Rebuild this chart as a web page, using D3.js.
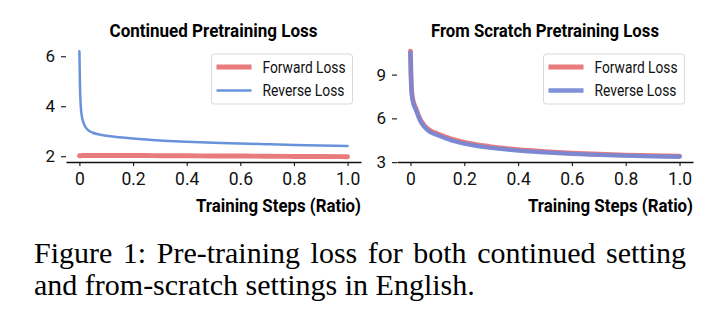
<!DOCTYPE html>
<html>
<head>
<meta charset="utf-8">
<script src="https://cdn.jsdelivr.net/npm/d3@7"></script>
<style>
  html, body { margin: 0; padding: 0; background: #fff; }
  svg { display: block; }
</style>
</head>
<body>
<svg id="chart" width="719" height="323"></svg>
<script>
// ---------------- DATA ----------------
const steps = [0, 0.002, 0.005, 0.01, 0.015, 0.02, 0.03, 0.04, 0.05, 0.07, 0.1, 0.15, 0.2, 0.25, 0.3, 0.4, 0.5, 0.6, 0.7, 0.8, 0.9, 1.0];

const contForward = [2.02, 2.02, 2.02, 2.03, 2.03, 2.03, 2.03, 2.03, 2.03, 2.03, 2.03, 2.03, 2.03, 2.03, 2.02, 2.02, 2.01, 2.01, 2.00, 1.99, 1.99, 1.98];
const contReverse = [6.2, 4.9, 4.0, 3.55, 3.35, 3.22, 3.07, 2.99, 2.94, 2.88, 2.82, 2.76, 2.71, 2.67, 2.63, 2.58, 2.54, 2.51, 2.48, 2.45, 2.43, 2.41];

const scratchForward = [10.6, 9.0, 7.8, 7.2, 6.9, 6.7, 6.2, 5.8, 5.55, 5.2, 4.95, 4.6, 4.35, 4.18, 4.05, 3.85, 3.72, 3.62, 3.54, 3.48, 3.44, 3.41];
const scratchReverse = [10.5, 8.9, 7.7, 7.1, 6.8, 6.6, 6.1, 5.7, 5.45, 5.1, 4.85, 4.5, 4.27, 4.1, 3.98, 3.79, 3.67, 3.57, 3.5, 3.44, 3.4, 3.37];

const xTicks = [0, 0.2, 0.4, 0.6, 0.8, 1.0];
const xTickLabels = ["0", "0.2", "0.4", "0.6", "0.8", "1.0"];
const contYTicks = [2, 4, 6];
const scratchYTicks = [3, 6, 9];

const panelTitles = ["Continued Pretraining Loss", "From Scratch Pretraining Loss"];
const seriesNames = ["Forward Loss", "Reverse Loss"];
const xAxisLabel = "Training Steps (Ratio)";
const captionLines = ["Figure 1: Pre-training loss for both continued setting", "and from-scratch settings in English."];

// ---------------- STYLE ----------------
const RED = "#e87b7b";
const BLUE = "#6893dc";
const BLUE2 = "#7388d6";
const FONT = "Roboto, 'Noto Sans', sans-serif";

const svg = d3.select("#chart");

const panels = [
  { x0: 66, x1: 361, title: panelTitles[0], titleLen: 208,
    fwd: contForward, rev: contReverse, yTicks: contYTicks,
    fwdW: 4.8, revW: 2.5, revColor: BLUE, revOpacity: 1 },
  { x0: 397, x1: 693, title: panelTitles[1], titleLen: 228,
    fwd: scratchForward, rev: scratchReverse, yTicks: scratchYTicks,
    fwdW: 4.8, revW: 4.3, revColor: BLUE2, revOpacity: 0.92 }
];
const yTop = 46, yBot = 162;

panels.forEach(p => {
  const g = svg.append("g");
  const xExt = d3.extent(steps);
  const xPad = (xExt[1] - xExt[0]) * 0.05;
  const x = d3.scaleLinear().domain([xExt[0] - xPad, xExt[1] + xPad]).range([p.x0, p.x1]);
  const allY = p.fwd.concat(p.rev);
  const yExt = d3.extent(allY);
  const yPad = (yExt[1] - yExt[0]) * 0.05;
  const y = d3.scaleLinear().domain([yExt[0] - yPad, yExt[1] + yPad]).range([yBot, yTop]);

  // lines
  const line = d3.line().x((d, i) => x(steps[i])).y(d => y(d)).curve(d3.curveMonotoneX);
  g.append("path").datum(p.fwd).attr("d", line)
    .attr("fill", "none").attr("stroke", RED).attr("stroke-width", p.fwdW)
    .attr("stroke-linecap", "round").attr("stroke-linejoin", "round");
  g.append("path").datum(p.rev).attr("d", line)
    .attr("fill", "none").attr("stroke", p.revColor).attr("stroke-width", p.revW)
    .attr("stroke-opacity", p.revOpacity)
    .attr("stroke-linecap", "round").attr("stroke-linejoin", "round");

  // x axis
  const xa = g.append("g").attr("transform", `translate(0,${yBot})`)
    .call(d3.axisBottom(x).tickValues(xTicks).tickFormat((d, i) => xTickLabels[i])
      .tickSizeInner(4).tickSizeOuter(0).tickPadding(7));
  xa.select(".domain").attr("stroke", "#111").attr("stroke-width", 1.3);
  xa.selectAll(".tick line").attr("stroke", "#111").attr("stroke-width", 1.1);
  xa.selectAll(".tick text").attr("font-family", FONT).attr("font-size", 17.5).attr("fill", "#111");

  // y axis (no spine)
  const ya = g.append("g").attr("transform", `translate(${p.x0},0)`)
    .call(d3.axisLeft(y).tickValues(p.yTicks).tickFormat(d3.format("d"))
      .tickSizeInner(5).tickSizeOuter(0).tickPadding(6));
  ya.select(".domain").remove();
  ya.selectAll(".tick line").attr("stroke", "#111").attr("stroke-width", 1.1);
  ya.selectAll(".tick text").attr("font-family", FONT).attr("font-size", 17).attr("fill", "#111");

  // title
  g.append("text").attr("x", (p.x0 + p.x1) / 2).attr("y", 36.5)
    .attr("text-anchor", "middle").attr("font-family", FONT).attr("font-weight", 700)
    .attr("font-size", 17.5).attr("fill", "#000")
    .attr("textLength", p.titleLen).attr("lengthAdjust", "spacingAndGlyphs")
    .text(p.title);

  // x label (right aligned)
  g.append("text").attr("x", p.x1 - 165).attr("y", 212)
    .attr("font-family", FONT).attr("font-weight", 700)
    .attr("font-size", 18).attr("fill", "#000")
    .attr("textLength", 165).attr("lengthAdjust", "spacingAndGlyphs")
    .text(xAxisLabel);

  // legend
  const lw = 141, lh = 50;
  const lx = p.x1 - 8.5 - lw, ly = yTop + 8;
  const lg = g.append("g");
  lg.append("rect").attr("x", lx).attr("y", ly).attr("width", lw).attr("height", lh)
    .attr("rx", 3).attr("fill", "#fff").attr("fill-opacity", 0.85)
    .attr("stroke", "#d9d9d9").attr("stroke-width", 1);
  const entries = [
    { name: seriesNames[0], color: RED, w: p.fwdW, op: 1, len: 83 },
    { name: seriesNames[1], color: p.revColor, w: p.revW, op: p.revOpacity, len: 82 }
  ];
  entries.forEach((e, i) => {
    const cy = ly + 13 + i * 23.5;
    lg.append("line").attr("x1", lx + 5).attr("x2", lx + 40).attr("y1", cy).attr("y2", cy)
      .attr("stroke", e.color).attr("stroke-width", e.w).attr("stroke-opacity", e.op);
    lg.append("text").attr("x", lx + 51).attr("y", cy).attr("dy", "0.36em")
      .attr("font-family", FONT).attr("font-size", 16).attr("fill", "#111")
      .attr("textLength", e.len).attr("lengthAdjust", "spacingAndGlyphs")
      .text(e.name);
  });
});

// ---------------- CAPTION ----------------
const capX = 34, capRight = 686;
const capFont = "'Liberation Serif', 'Times New Roman', serif";
const capSize = 30;
// line 1: justified
(function () {
  const words = captionLines[0].split(" ");
  const tmp = words.map(w => svg.append("text").attr("font-family", capFont).attr("font-size", capSize).text(w));
  const widths = tmp.map(t => t.node().getComputedTextLength());
  tmp.forEach(t => t.remove());
  const total = d3.sum(widths);
  const gap = (capRight - capX - total) / (words.length - 1);
  const t = svg.append("text").attr("y", 263).attr("font-family", capFont).attr("font-size", capSize).attr("fill", "#000");
  let cx = capX;
  words.forEach((w, i) => {
    t.append("tspan").attr("x", cx).text(w);
    cx += widths[i] + gap;
  });
})();
svg.append("text").attr("x", capX).attr("y", 295)
  .attr("font-family", capFont).attr("font-size", capSize).attr("fill", "#000")
  .text(captionLines[1]);
</script>
</body>
</html>
